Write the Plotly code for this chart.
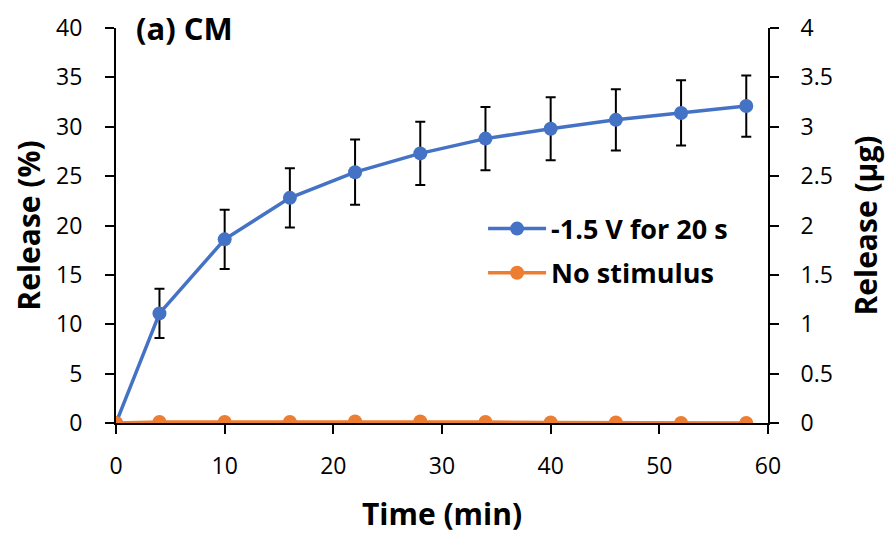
import plotly.graph_objects as go

time_min = [0, 4, 10, 16, 22, 28, 34, 40, 46, 52, 58]
stim_release = [0, 11.1, 18.6, 22.8, 25.4, 27.3, 28.8, 29.8, 30.7, 31.4, 32.1]
stim_err = [0, 2.5, 3.0, 3.0, 3.3, 3.2, 3.2, 3.2, 3.1, 3.3, 3.1]
nostim_release = [0, 0.1, 0.1, 0.1, 0.15, 0.15, 0.1, 0.05, 0.05, 0.0, 0.0]

left_ticks = [0, 5, 10, 15, 20, 25, 30, 35, 40]
right_ticks = [0, 0.5, 1, 1.5, 2, 2.5, 3, 3.5, 4]
right_ticklabels = ["0", "0.5", "1", "1.5", "2", "2.5", "3", "3.5", "4"]
x_ticks = [0, 10, 20, 30, 40, 50, 60]

BLUE = "#4472C4"
ORANGE = "#ED7D31"
FONT = "Open Sans"

fig = go.Figure()
fig.add_trace(go.Scatter(
    x=time_min, y=stim_release, name="<b>-1.5 V for 20 s</b>",
    mode="lines+markers", legendgroup="a",
    line=dict(color=BLUE, width=3.5),
    marker=dict(color=BLUE, size=14),
    error_y=dict(type="data", array=stim_err, color="black", thickness=2, width=5),
))
fig.add_trace(go.Scatter(
    x=time_min, y=nostim_release, name="<b>No stimulus</b>",
    mode="lines+markers", legendgroup="b",
    line=dict(color=ORANGE, width=3.5),
    marker=dict(color=ORANGE, size=14),
))
# invisible trace for right axis
fig.add_trace(go.Scatter(x=[0], y=[0], yaxis="y2", showlegend=False,
                         mode="markers", marker=dict(opacity=0), hoverinfo="skip"))

axis_common = dict(showgrid=False, zeroline=False, showline=True, linecolor="black",
                   linewidth=2, ticks="outside", ticklen=9, tickwidth=2, tickcolor="black",
                   automargin=False,
                   tickfont=dict(family=FONT, size=23, color="black"))
title_font = dict(family=FONT, size=30, color="black")

fig.update_layout(
    width=885, height=534,
    margin=dict(l=108, r=125, t=20, b=119, autoexpand=False),
    paper_bgcolor="white", plot_bgcolor="white",
    font=dict(family=FONT, color="black"),
    xaxis=dict(range=[0, 60], tickvals=x_ticks, ticklabelstandoff=12,
               title=dict(text="<b>Time (min)</b>", font=title_font, standoff=24),
               **axis_common),
    yaxis=dict(range=[0, 40], tickvals=left_ticks, ticklabelstandoff=18,
               title=dict(text="<b>Release (%)</b>", font=title_font, standoff=10),
               **axis_common),
    yaxis2=dict(range=[0, 4], tickvals=right_ticks, ticktext=right_ticklabels,
                overlaying="y", side="right", ticklabelstandoff=17,
                title=dict(text="<b>Release (µg)</b>", font=title_font, standoff=24),
                **axis_common),
    legend=dict(x=0.563, y=0.553, xanchor="left", yanchor="top",
                font=dict(family=FONT, size=27, color="black"),
                bgcolor="rgba(0,0,0,0)", tracegroupgap=6, itemwidth=58),
    showlegend=True,
)
fig.add_annotation(text="<b>(a) CM</b>", xref="paper", yref="paper", x=0.027, y=1.0,
                   xanchor="left", yanchor="middle", showarrow=False,
                   font=dict(family=FONT, size=31, color="black"))

fig.write_html("out.html")
